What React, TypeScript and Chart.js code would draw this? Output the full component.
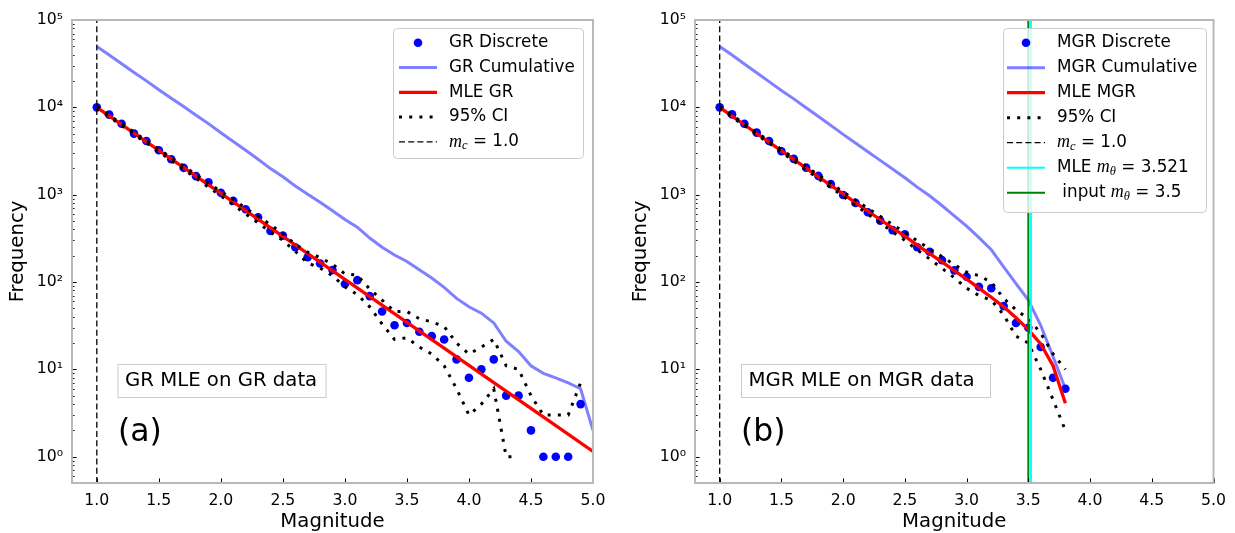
import React, { useEffect, useRef } from 'react';
import { Chart, registerables } from 'chart.js';

Chart.register(...registerables);

const SANS = '"DejaVu Sans", sans-serif';
const SERIF = '"Liberation Serif", "DejaVu Serif", serif';

// ---------- data: panel (a) GR ----------
const grMags = [1.0, 1.1, 1.2, 1.3, 1.4, 1.5, 1.6, 1.7, 1.8, 1.9, 2.0, 2.1, 2.2, 2.3, 2.4, 2.5, 2.6, 2.7, 2.8, 2.9, 3.0, 3.1, 3.2, 3.3, 3.4, 3.5, 3.6, 3.7, 3.8, 3.9, 4.0, 4.1, 4.2, 4.3, 4.4, 4.5, 4.6, 4.7, 4.8, 4.9];
const grDiscrete = [10000, 8260, 6500, 5000, 4120, 3230, 2550, 2030, 1630, 1390, 1050, 850, 680, 550, 385, 340, 250, 192, 163, 137, 95, 105, 69, 46, 32, 34, 27, 24, 22, 13, 8, 10, 13, 5, 5, 2, 1, 1, 1, 4];
const grCumMags = [1.0, 1.1, 1.2, 1.3, 1.4, 1.5, 1.6, 1.7, 1.8, 1.9, 2.0, 2.1, 2.2, 2.3, 2.4, 2.5, 2.6, 2.7, 2.8, 2.9, 3.0, 3.1, 3.2, 3.3, 3.4, 3.5, 3.6, 3.7, 3.8, 3.9, 4.0, 4.1, 4.2, 4.3, 4.4, 4.5, 4.6, 4.7, 4.8, 4.9, 5.0];
const grCumulative = [49800, 39800, 31600, 25100, 20100, 15900, 12700, 10200, 8140, 6510, 5120, 4070, 3220, 2540, 1990, 1600, 1260, 1010, 820, 656, 519, 424, 319, 250, 204, 172, 138, 111, 87, 65, 52, 44, 34, 21, 16, 11, 9, 8, 7, 6, 2];
const grMleMags = [1.0, 1.5, 2.0, 2.5, 3.0, 3.5, 4.0, 4.5, 5.0];
const grMle = [10000, 3217, 1035, 333, 107, 34.5, 11.1, 3.57, 1.15];
const grCiUpper = [10200, 8140, 6500, 5200, 4150, 3320, 2650, 2120, 1700, 1360, 1090, 880, 700, 565, 455, 355, 270, 220, 190, 160, 124, 120, 83, 62, 46, 46, 38, 35, 31, 20, 15, 18, 22, 11, 10, 5, 3, 3, 3, 7];
const grCiLower = [9800, 7790, 6190, 4915, 3900, 3100, 2460, 1950, 1540, 1220, 966, 764, 603, 475, 374, 300, 225, 165, 145, 118, 88, 72, 52, 33, 22, 23, 18, 15, 11, 6, 3, 4, 6, 1, 1, null, null, null, null, null];

// ---------- data: panel (b) MGR ----------
const mgrMags = [1.0, 1.1, 1.2, 1.3, 1.4, 1.5, 1.6, 1.7, 1.8, 1.9, 2.0, 2.1, 2.2, 2.3, 2.4, 2.5, 2.6, 2.7, 2.8, 2.9, 3.0, 3.1, 3.2, 3.3, 3.4, 3.5, 3.6, 3.7, 3.8];
const mgrDiscrete = [10000, 8300, 6500, 5130, 4120, 3140, 2570, 2040, 1640, 1320, 990, 805, 630, 505, 393, 352, 250, 222, 178, 136, 115, 88, 85, 53, 34, 30, 18, 8, 6];
const mgrCumulative = [49700, 39700, 31400, 24900, 19700, 15600, 12500, 9900, 7860, 6220, 4900, 3910, 3100, 2470, 1970, 1560, 1220, 973, 751, 573, 437, 322, 234, 149, 96, 62, 32, 14, 6];
const mgrMle = [10000, 7950, 6320, 5020, 4000, 3180, 2530, 2010, 1600, 1280, 1020, 810, 650, 520, 415, 335, 265, 212, 170, 135, 108, 85, 67, 52, 39, 28.5, 19.5, 11, 4.1];
const mgrCiUpper = [10200, 8130, 6480, 5160, 4120, 3290, 2630, 2100, 1680, 1350, 1080, 866, 700, 565, 455, 370, 297, 240, 196, 158, 130, 118, 100, 65, 48, 38, 26, 15, 10];
const mgrCiLower = [9800, 7770, 6160, 4880, 3880, 3070, 2430, 1920, 1520, 1210, 960, 754, 600, 475, 375, 300, 233, 184, 144, 112, 85, 70, 62, 42, 24, 20, 10, 4.5, 2];

const mcValue = 1.0;
const mThetaMle = 3.521;
const mThetaInput = 3.5;

// ---------- axes ----------
const xMin = 0.8;
const xMax = 5.0;
const yMin = 0.5;
const yMax = 100000;
const xTickValues = [1.0, 1.5, 2.0, 2.5, 3.0, 3.5, 4.0, 4.5, 5.0];
const xTickLabels = ['1.0', '1.5', '2.0', '2.5', '3.0', '3.5', '4.0', '4.5', '5.0'];
const yTickValues = [1, 10, 100, 1000, 10000, 100000];
const yTickLabels = ['10⁰', '10¹', '10²', '10³', '10⁴', '10⁵'];
const yMinorMultipliers = [2, 3, 4, 5, 6, 7, 8, 9];
const yMinorDecades = [0.1, 1, 10, 100, 1000, 10000];

const pts = (xs: number[], ys: (number | null)[]) => xs.map((x, i) => ({ x, y: ys[i] }));
const vline = (x: number) => [{ x, y: yMin }, { x, y: yMax }];

type Part = { t: string; s: 'n' | 'i' | 'sub' };
type LegendItem = { kind: 'marker' | 'line' | 'dot' | 'dash'; color: string; width: number; parts: Part[] };

type PanelSpec = {
  offsetX: number;
  canvasWidth: number;
  areaLeft: number;
  areaRight: number;
  datasets: any[];
  legend: { x: number; y: number; w: number; h: number; rowY0: number; rowStep: number; sx0: number; sx1: number; tx: number; items: LegendItem[] };
  box: { x: number; y: number; w: number; h: number; tx: number; ty: number; text: string };
  tag: { x: number; y: number; text: string };
  yTitleOffset: number;
};

function drawParts(ctx: CanvasRenderingContext2D, x: number, y: number, parts: Part[]) {
  let cx = x;
  ctx.textBaseline = 'middle';
  ctx.textAlign = 'left';
  ctx.fillStyle = '#000';
  for (const p of parts) {
    let dy = 0;
    if (p.s === 'n') ctx.font = `16.8px ${SANS}`;
    else if (p.s === 'i') ctx.font = `italic 18px ${SERIF}`;
    else { ctx.font = `italic 12.5px ${SERIF}`; dy = 4; }
    ctx.fillText(p.t, cx, y + dy);
    cx += ctx.measureText(p.t).width;
  }
}

function makeDecor(spec: PanelSpec) {
  return {
    id: 'decor',
    afterDatasetsDraw(chart: any) {
      const ctx: CanvasRenderingContext2D = chart.ctx;
      const o = spec.offsetX;
      ctx.save();
      // annotation box
      const b = spec.box;
      ctx.fillStyle = 'rgba(255,255,255,0.85)';
      ctx.strokeStyle = '#cccccc';
      ctx.lineWidth = 1;
      ctx.fillRect(b.x - o, b.y, b.w, b.h);
      ctx.strokeRect(b.x - o + 0.5, b.y + 0.5, b.w, b.h);
      ctx.fillStyle = '#000';
      ctx.font = `19.7px ${SANS}`;
      ctx.textBaseline = 'middle';
      ctx.textAlign = 'left';
      ctx.fillText(b.text, b.tx - o, b.ty);
      // panel tag
      ctx.font = `31.5px ${SANS}`;
      ctx.fillText(spec.tag.text, spec.tag.x - o, spec.tag.y);
      // legend
      const L = spec.legend;
      ctx.beginPath();
      (ctx as any).roundRect(L.x - o + 0.5, L.y + 0.5, L.w, L.h, 4);
      ctx.fillStyle = 'rgba(255,255,255,0.8)';
      ctx.fill();
      ctx.strokeStyle = '#cccccc';
      ctx.lineWidth = 1;
      ctx.stroke();
      L.items.forEach((it, i) => {
        const y = L.rowY0 + i * L.rowStep;
        const x0 = L.sx0 - o;
        const x1 = L.sx1 - o;
        ctx.save();
        if (it.kind === 'marker') {
          ctx.fillStyle = it.color;
          ctx.beginPath();
          ctx.arc((x0 + x1) / 2, y, 4.3, 0, Math.PI * 2);
          ctx.fill();
        } else {
          ctx.strokeStyle = it.color;
          ctx.lineWidth = it.width;
          ctx.lineCap = 'butt';
          if (it.kind === 'dot') ctx.setLineDash([3, 7.2]);
          if (it.kind === 'dash') ctx.setLineDash([6, 3.2]);
          ctx.beginPath();
          ctx.moveTo(x0, y);
          ctx.lineTo(x1, y);
          ctx.stroke();
        }
        ctx.restore();
        drawParts(ctx, L.tx - o, y, it.parts);
      });
      ctx.restore();
    },
    afterDraw(chart: any) {
      const ctx: CanvasRenderingContext2D = chart.ctx;
      const a = chart.chartArea;
      const xs = chart.scales.x;
      const ys = chart.scales.y;
      ctx.save();
      ctx.strokeStyle = '#000';
      ctx.lineWidth = 1;
      // x ticks (inward)
      xTickValues.forEach((v) => {
        const px = Math.round(xs.getPixelForValue(v)) + 0.5;
        ctx.beginPath();
        ctx.moveTo(px, a.bottom);
        ctx.lineTo(px, a.bottom - 4.6);
        ctx.stroke();
      });
      // y major ticks
      yTickValues.forEach((v) => {
        const py = Math.round(ys.getPixelForValue(v)) + 0.5;
        ctx.beginPath();
        ctx.moveTo(a.left, py);
        ctx.lineTo(a.left + 4.6, py);
        ctx.stroke();
      });
      // y minor ticks
      ctx.lineWidth = 0.9;
      yMinorDecades.forEach((d) => {
        yMinorMultipliers.forEach((m) => {
          const v = d * m;
          if (v < yMin || v > yMax) return;
          const py = Math.round(ys.getPixelForValue(v)) + 0.5;
          ctx.beginPath();
          ctx.moveTo(a.left, py);
          ctx.lineTo(a.left + 2.6, py);
          ctx.stroke();
        });
      });
      // frame
      ctx.strokeStyle = '#b8b8b8';
      ctx.lineWidth = 2;
      ctx.strokeRect(a.left, a.top, a.right - a.left, a.bottom - a.top);
      ctx.restore();
    },
  };
}

function buildConfig(spec: PanelSpec): any {
  return {
    type: 'line',
    data: { datasets: spec.datasets },
    options: {
      animation: false,
      responsive: false,
      devicePixelRatio: 1,
      events: [],
      layout: {
        padding: { left: 0, top: 20, right: spec.canvasWidth - spec.areaRight, bottom: 0 },
      },
      plugins: { legend: { display: false }, tooltip: { enabled: false } },
      scales: {
        x: {
          type: 'linear',
          min: xMin,
          max: xMax,
          grid: { display: false, drawTicks: false },
          border: { display: false },
          afterBuildTicks: (s: any) => {
            s.ticks = xTickValues.map((v) => ({ value: v }));
          },
          afterFit: (s: any) => {
            s.height = 50;
          },
          ticks: {
            autoSkip: false,
            maxRotation: 0,
            padding: 9,
            color: '#000',
            font: { family: SANS, size: 15.7 },
            callback: (v: number) => {
              const i = xTickValues.findIndex((t) => Math.abs(t - v) < 1e-6);
              return i >= 0 ? xTickLabels[i] : '';
            },
          },
          title: {
            display: true,
            text: 'Magnitude',
            color: '#000',
            font: { family: SANS, size: 19.7, lineHeight: 1.1 },
            padding: { top: 0, bottom: 0 },
          },
        },
        y: {
          type: 'logarithmic',
          min: yMin,
          max: yMax,
          grid: { display: false, drawTicks: false },
          border: { display: false },
          afterBuildTicks: (s: any) => {
            s.ticks = yTickValues.map((v) => ({ value: v, major: true }));
          },
          afterFit: (s: any) => {
            s.width = spec.areaLeft;
          },
          ticks: {
            autoSkip: false,
            padding: 9,
            color: '#000',
            font: { family: SANS, size: 15.7 },
            callback: (v: number) => {
              const i = yTickValues.findIndex((t) => Math.abs(t - v) / t < 1e-6);
              return i >= 0 ? yTickLabels[i] : '';
            },
          },
          title: {
            display: true,
            text: 'Frequency',
            color: '#000',
            font: { family: SANS, size: 19.7, lineHeight: 1.2 },
            padding: { top: spec.yTitleOffset, bottom: 0 },
          },
        },
      },
    },
    plugins: [makeDecor(spec)],
  };
}

const lineDs = (label: string, data: any[], color: string, width: number, order: number, dash?: number[]) => ({
  label,
  data,
  borderColor: color,
  backgroundColor: color,
  borderWidth: width,
  borderDash: dash || [],
  borderCapStyle: 'butt',
  pointRadius: 0,
  fill: false,
  tension: 0,
  order,
});

const scatterDs = (label: string, data: any[], order: number) => ({
  label,
  data,
  showLine: false,
  pointRadius: 4.3,
  pointBackgroundColor: 'blue',
  pointBorderWidth: 0,
  pointBorderColor: 'blue',
  order,
});

const dotDash = [3, 7.2];
const dashDash = [6, 3.2];

const commonItems = (name: string, mle: string): LegendItem[] => [
  { kind: 'marker', color: 'blue', width: 0, parts: [{ t: `${name} Discrete`, s: 'n' }] },
  { kind: 'line', color: 'rgba(0,0,255,0.5)', width: 3, parts: [{ t: `${name} Cumulative`, s: 'n' }] },
  { kind: 'line', color: 'red', width: 3.3, parts: [{ t: mle, s: 'n' }] },
  { kind: 'dot', color: '#000', width: 3, parts: [{ t: '95% CI', s: 'n' }] },
  { kind: 'dash', color: '#000', width: 1.3, parts: [{ t: 'm', s: 'i' }, { t: 'c', s: 'sub' }, { t: ' = 1.0', s: 'n' }] },
];

const specA: PanelSpec = {
  offsetX: 0,
  canvasWidth: 617,
  areaLeft: 72,
  areaRight: 593,
  yTitleOffset: 6,
  datasets: [
    scatterDs('GR Discrete', pts(grMags, grDiscrete), 10),
    lineDs('GR Cumulative', pts(grCumMags, grCumulative), 'rgba(0,0,255,0.5)', 3, 9),
    lineDs('MLE GR', pts(grMleMags, grMle), 'red', 3.3, 8),
    lineDs('95% CI', pts(grMags, grCiUpper), '#000', 3, 7, dotDash),
    lineDs('95% CI lower', pts(grMags, grCiLower), '#000', 3, 7, dotDash),
    lineDs('m_c = 1.0', vline(mcValue), '#000', 1.3, 6, dashDash),
  ],
  legend: { x: 393, y: 28, w: 190, h: 130, rowY0: 42.7, rowStep: 24.8, sx0: 399, sx1: 437, tx: 449, items: commonItems('GR', 'MLE GR') },
  box: { x: 117.5, y: 364, w: 208, h: 33, tx: 125, ty: 381, text: 'GR MLE on GR data' },
  tag: { x: 118, y: 433, text: '(a)' },
};

const specB: PanelSpec = {
  offsetX: 617,
  canvasWidth: 618,
  areaLeft: 78,
  areaRight: 599,
  yTitleOffset: 12,
  datasets: [
    scatterDs('MGR Discrete', pts(mgrMags, mgrDiscrete), 10),
    lineDs('MGR Cumulative', pts(mgrMags, mgrCumulative), 'rgba(0,0,255,0.5)', 3, 9),
    lineDs('MLE MGR', pts(mgrMags, mgrMle), 'red', 3.3, 8),
    lineDs('95% CI', pts(mgrMags, mgrCiUpper), '#000', 3, 7, dotDash),
    lineDs('95% CI lower', pts(mgrMags, mgrCiLower), '#000', 3, 7, dotDash),
    lineDs('m_c = 1.0', vline(mcValue), '#000', 1.3, 6, dashDash),
    lineDs('MLE m_theta = 3.521', vline(mThetaMle), '#00ffff', 2, 5),
    lineDs('input m_theta = 3.5', vline(mThetaInput), 'green', 2, 4),
  ],
  legend: {
    x: 1003, y: 28, w: 203, h: 184, rowY0: 42.7, rowStep: 25, sx0: 1007, sx1: 1045, tx: 1057,
    items: [
      ...commonItems('MGR', 'MLE MGR'),
      { kind: 'line', color: '#00ffff', width: 2, parts: [{ t: 'MLE ', s: 'n' }, { t: 'm', s: 'i' }, { t: 'θ', s: 'sub' }, { t: ' = 3.521', s: 'n' }] },
      { kind: 'line', color: 'green', width: 2, parts: [{ t: ' input ', s: 'n' }, { t: 'm', s: 'i' }, { t: 'θ', s: 'sub' }, { t: ' = 3.5', s: 'n' }] },
    ],
  },
  box: { x: 741, y: 364, w: 249, h: 33, tx: 748.5, ty: 381, text: 'MGR MLE on MGR data' },
  tag: { x: 741, y: 433, text: '(b)' },
};

function Panel({ spec }: { spec: PanelSpec }) {
  const ref = useRef<HTMLCanvasElement>(null);
  useEffect(() => {
    const chart = new Chart(ref.current as HTMLCanvasElement, buildConfig(spec));
    return () => chart.destroy();
  }, []);
  return (
    <canvas
      ref={ref}
      width={spec.canvasWidth}
      height={533}
      style={{ position: 'absolute', left: spec.offsetX, top: 0, width: spec.canvasWidth, height: 533 }}
    />
  );
}

export default function App() {
  return (
    <div style={{ position: 'fixed', left: 0, top: 0, width: 1235, height: 533, background: '#fff' }}>
      <Panel spec={specA} />
      <Panel spec={specB} />
    </div>
  );
}
